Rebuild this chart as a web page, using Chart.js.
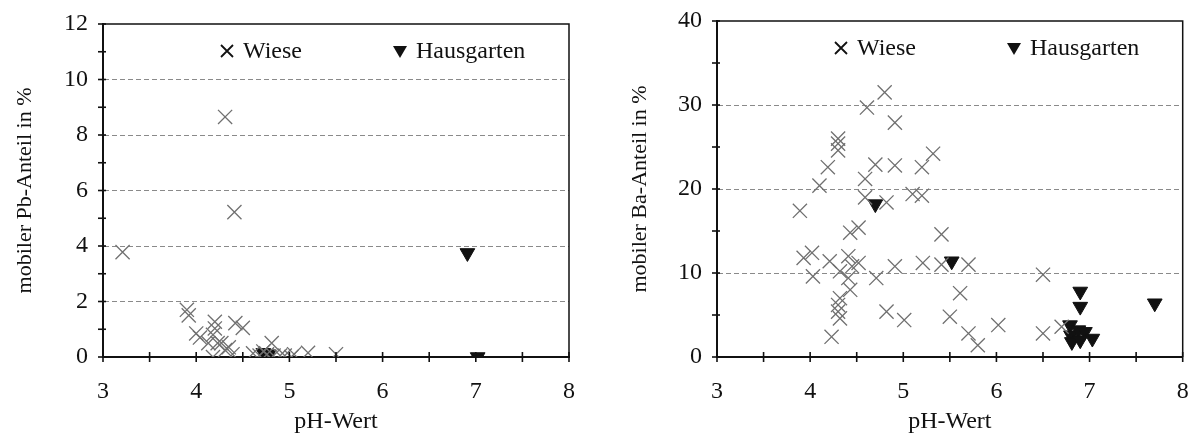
<!DOCTYPE html>
<html>
<head>
<meta charset="utf-8">
<script src="https://cdn.jsdelivr.net/npm/chart.js@4/dist/chart.umd.min.js"></script>
<style>
  html, body { margin: 0; background: #fff; overflow: hidden; }
  .panel { position: absolute; top: 0; height: 438px; }
</style>
</head>
<body>
<div class="panel" style="left:0;width:595px"><canvas id="pbChart" width="595" height="438"></canvas></div>
<div class="panel" style="left:595px;width:599px"><canvas id="baChart" width="599" height="438"></canvas></div>
<script>
// Pb chart data (pH, mobile share in %)
const pbWiesePH  = [3.21, 4.31, 4.41, 3.90, 3.92, 4.00, 4.04, 4.13, 4.20, 4.20, 4.18, 4.23, 4.18, 4.27, 4.31, 4.35, 4.42, 4.50, 4.39, 4.61, 4.68, 4.72, 4.76, 4.81, 4.83, 4.90, 4.95, 5.02, 5.05, 5.20, 5.50];
const pbWieseVal = [3.78, 8.65, 5.22, 1.70, 1.50, 0.85, 0.70, 0.50, 1.27, 1.03, 0.80, 0.50, 0.00, 0.50, 0.25, 0.35, 1.22, 1.05, 0.10, 0.13, 0.05, 0.20, 0.10, 0.50, 0.05, 0.05, 0.05, 0.00, 0.10, 0.15, 0.10];
const pbGartenPH  = [4.72, 4.78, 6.91, 7.02];
const pbGartenVal = [0.15, 0.10, 3.75, 0.00];

// Ba chart data
const baWiesePH  = [3.89, 4.10, 4.19, 4.30, 4.30, 4.30, 4.61, 4.80, 4.91, 4.70, 4.91, 4.59, 4.59, 4.82, 5.32, 5.20, 5.10, 5.20, 5.41, 4.91, 5.21, 5.41, 5.70, 6.50, 5.61, 4.82, 5.01, 5.50, 5.70, 5.80, 6.02, 6.50, 6.70, 4.43, 4.52, 3.93, 4.02, 4.03, 4.21, 4.32, 4.41, 4.52, 4.45, 4.41, 4.43, 4.32, 4.30, 4.30, 4.32, 4.23, 4.71];
const baWieseVal = [17.4, 20.4, 22.6, 26.0, 25.4, 24.6, 29.7, 31.5, 27.9, 22.9, 22.8, 21.2, 19.0, 18.4, 24.2, 22.6, 19.4, 19.2, 14.6, 10.8, 11.2, 11.0, 11.0, 9.8, 7.6, 5.4, 4.4, 4.8, 2.8, 1.4, 3.8, 2.8, 3.6, 14.8, 15.4, 11.8, 12.4, 9.6, 11.4, 10.2, 12.0, 11.2, 10.8, 9.4, 8.0, 7.0, 6.2, 5.4, 4.6, 2.4, 9.4];
const baGartenPH  = [4.70, 5.52, 6.90, 6.90, 7.70, 6.79, 6.80, 6.88, 6.95, 6.81, 6.90, 7.03];
const baGartenVal = [18.2, 11.4, 7.8, 6.0, 6.4, 3.8, 2.6, 3.2, 3.0, 1.8, 2.0, 2.2];

const xTicks = [3, 4, 5, 6, 7, 8];
const seriesLabels = ['Wiese', 'Hausgarten'];

const SERIF = '"Liberation Serif", "DejaVu Serif", serif';

const toPoints = (xs, ys) => xs.map((x, i) => ({ x: x, y: ys[i] }));

// label overflow should not push the plot area around
const noPad = (scale) => {
    scale.paddingTop = 0;
    scale.paddingBottom = 0;
    scale.paddingLeft = 0;
    scale.paddingRight = 0;
};

// frame, crossing tick marks and in-plot legend
const decorPlugin = {
    id: 'decor',
    afterDraw(chart, args, opts) {
        const { ctx, chartArea: a, scales } = chart;
        const xs = scales.x, ys = scales.y;
        ctx.save();
        ctx.strokeStyle = '#111';
        ctx.lineWidth = 1.5;
        ctx.beginPath();
        ctx.moveTo(a.left, a.top);
        ctx.lineTo(a.right, a.top);
        ctx.lineTo(a.right, a.bottom);
        ctx.stroke();

        ctx.lineWidth = 1.6;
        for (let v = 0; v <= opts.yMax + 1e-9; v += opts.yMinor) {
            const py = ys.getPixelForValue(v);
            ctx.beginPath();
            ctx.moveTo(a.left - 5, py);
            ctx.lineTo(a.left + 3, py);
            ctx.stroke();
        }
        for (let v = 3; v <= 8 + 1e-9; v += 0.5) {
            const px = xs.getPixelForValue(v);
            ctx.beginPath();
            ctx.moveTo(px, a.bottom - 5);
            ctx.lineTo(px, a.bottom + 5);
            ctx.stroke();
        }

        // legend
        const ly = a.top + 27;
        ctx.font = '24px ' + SERIF;
        ctx.fillStyle = '#111';
        ctx.textBaseline = 'middle';
        let cx = a.left + 124;
        ctx.lineWidth = 1.8;
        ctx.beginPath();
        ctx.moveTo(cx - 6, ly - 6); ctx.lineTo(cx + 6, ly + 6);
        ctx.moveTo(cx + 6, ly - 6); ctx.lineTo(cx - 6, ly + 6);
        ctx.stroke();
        ctx.fillText(chart.data.datasets[0].label, cx + 16, ly + 1);
        cx = a.left + 297;
        ctx.beginPath();
        ctx.moveTo(cx - 7, ly - 5); ctx.lineTo(cx + 7, ly - 5); ctx.lineTo(cx, ly + 7);
        ctx.closePath();
        ctx.fill();
        ctx.fillText(chart.data.datasets[1].label, cx + 16, ly + 1);
        ctx.restore();
    }
};

function makeChart(id, wiese, garten, yMax, yStep, yMinor, yTitle, yWidth, yTitlePad, pad) {
    return new Chart(document.getElementById(id), {
        type: 'scatter',
        data: {
            datasets: [{
                label: seriesLabels[0],
                data: wiese,
                pointStyle: 'crossRot',
                radius: 10,
                borderColor: '#707070',
                borderWidth: 1.3
            }, {
                label: seriesLabels[1],
                data: garten,
                pointStyle: 'triangle',
                rotation: 180,
                radius: 8.5,
                backgroundColor: '#111',
                borderColor: '#111',
                borderWidth: 1
            }]
        },
        options: {
            responsive: false,
            animation: false,
            events: [],
            layout: { padding: pad },
            plugins: {
                legend: { display: false },
                tooltip: { enabled: false },
                decor: { yMax: yMax, yMinor: yMinor }
            },
            scales: {
                x: {
                    type: 'linear',
                    min: 3,
                    max: 8,
                    afterBuildTicks: (scale) => { scale.ticks = xTicks.map(v => ({ value: v })); },
                    afterFit: (scale) => { scale.height = 438 - 357; noPad(scale); },
                    ticks: { font: { family: SERIF, size: 24 }, color: '#111', padding: 20 },
                    grid: { display: false, drawTicks: false },
                    border: { display: true, color: '#111', width: 2 },
                    title: { display: true, text: 'pH-Wert', font: { family: SERIF, size: 24 }, color: '#111', padding: { top: 0, bottom: 2 } }
                },
                y: {
                    min: 0,
                    max: yMax,
                    afterFit: (scale) => { scale.width = yWidth; noPad(scale); },
                    ticks: { stepSize: yStep, font: { family: SERIF, size: 24 }, color: '#111', padding: 15 },
                    grid: {
                        drawTicks: false,
                        lineWidth: 1,
                        color: (c) => (c.tick && (c.tick.value === 0 || c.tick.value === yMax)) ? 'rgba(0,0,0,0)' : '#8a8a8a'
                    },
                    border: { display: true, color: '#111', width: 2, dash: [5, 3] },
                    title: { display: true, text: yTitle, font: { family: SERIF, size: 22 }, color: '#111', padding: { top: yTitlePad, bottom: 0 } }
                }
            }
        },
        plugins: [decorPlugin]
    });
}

makeChart('pbChart', toPoints(pbWiesePH, pbWieseVal), toPoints(pbGartenPH, pbGartenVal),
    12, 2, 1, 'mobiler Pb-Anteil in %', 103, 12, { top: 24, right: 26, left: 0, bottom: 0 });
makeChart('baChart', toPoints(baWiesePH, baWieseVal), toPoints(baGartenPH, baGartenVal),
    40, 10, 5, 'mobiler Ba-Anteil in %', 122, 32, { top: 21, right: 0, left: 0, bottom: 0 });
</script>
</body>
</html>
